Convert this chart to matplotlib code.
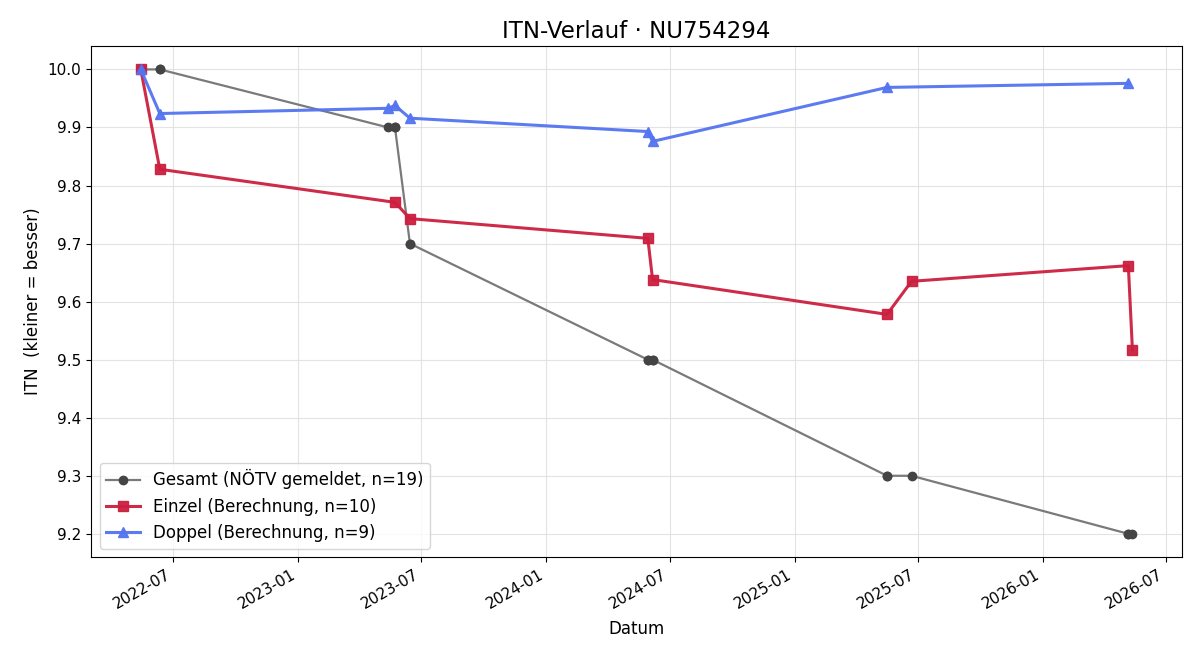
import matplotlib
matplotlib.use("Agg")
import matplotlib.pyplot as plt
import matplotlib.dates as mdates
import pandas as pd

# Gesamt (NÖTV gemeldet), one entry per match
gesamt_dates = [
    "2022-05-15", "2022-05-15", "2022-06-12", "2022-06-12",
    "2023-05-14", "2023-05-24", "2023-05-24", "2023-06-15", "2023-06-15",
    "2024-05-30", "2024-05-30", "2024-06-06", "2024-06-06",
    "2025-05-17", "2025-05-17", "2025-06-22",
    "2026-05-07", "2026-05-07", "2026-05-13",
]
gesamt_itn = [
    10.0, 10.0, 10.0, 10.0,
    9.9, 9.9, 9.9, 9.7, 9.7,
    9.5, 9.5, 9.5, 9.5,
    9.3, 9.3, 9.3,
    9.2, 9.2, 9.2,
]

einzel_dates = [
    "2022-05-15", "2022-06-12", "2023-05-24", "2023-06-15", "2024-05-30",
    "2024-06-06", "2025-05-17", "2025-06-22", "2026-05-07", "2026-05-13",
]
einzel_itn = [10.0, 9.828, 9.771, 9.743, 9.709, 9.638, 9.578, 9.635, 9.662, 9.517]

doppel_dates = [
    "2022-05-15", "2022-06-12", "2023-05-14", "2023-05-24", "2023-06-15",
    "2024-05-30", "2024-06-06", "2025-05-17", "2026-05-07",
]
doppel_itn = [10.0, 9.924, 9.933, 9.938, 9.916, 9.893, 9.876, 9.969, 9.976]

fig, ax = plt.subplots(figsize=(12, 6.6), dpi=100)

ax.plot(
    pd.to_datetime(gesamt_dates),
    gesamt_itn,
    color="#7a7a7a",
    marker="o",
    markersize=6,
    markerfacecolor="#444444",
    markeredgecolor="#444444",
    linewidth=1.6,
    label="Gesamt (NÖTV gemeldet, n=19)",
)

ax.plot(
    pd.to_datetime(einzel_dates),
    einzel_itn,
    color="#cc1f3f",
    marker="s",
    markersize=7,
    linewidth=2.2,
    alpha=0.95,
    label="Einzel (Berechnung, n=10)",
)

ax.plot(
    pd.to_datetime(doppel_dates),
    doppel_itn,
    color="#5474f0",
    marker="^",
    markersize=7,
    linewidth=2.2,
    alpha=0.95,
    label="Doppel (Berechnung, n=9)",
)

ax.xaxis.set_major_locator(mdates.MonthLocator(bymonth=[1, 7]))
ax.xaxis.set_major_formatter(mdates.DateFormatter("%Y-%m"))
ax.set_yticks([9.2, 9.3, 9.4, 9.5, 9.6, 9.7, 9.8, 9.9, 10.0])

ax.grid(True, color="#dddddd", linewidth=0.8, alpha=0.8)
ax.set_title("ITN-Verlauf · NU754294", fontsize=16.5)
ax.set_xlabel("Datum", fontsize=12, labelpad=6)
ax.set_ylabel("ITN  (kleiner = besser)", fontsize=12)
ax.tick_params(labelsize=11)
ax.legend(loc="lower left", fontsize=12)

fig.autofmt_xdate()
fig.subplots_adjust(left=0.076, right=0.985, top=0.93, bottom=0.156)

plt.savefig("out.png")
plt.close()
